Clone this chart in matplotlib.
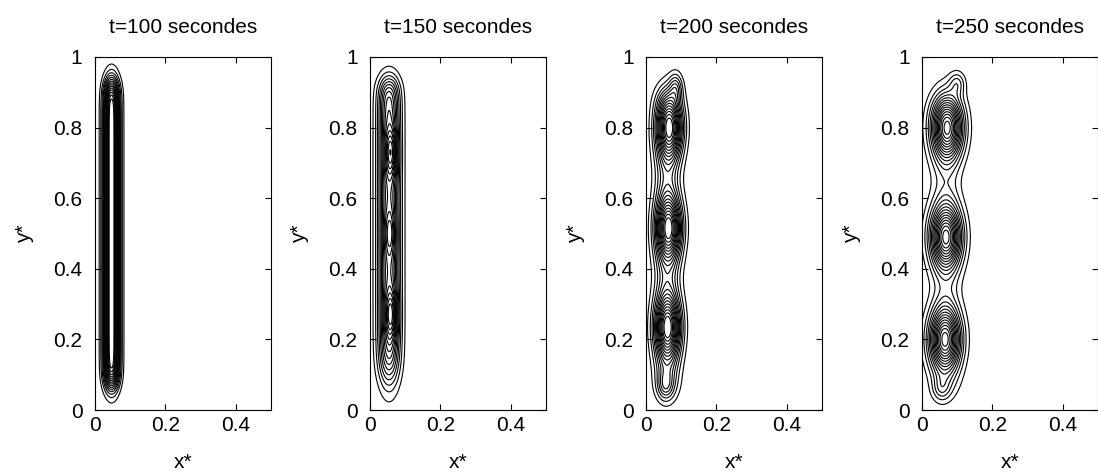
"""Contours of the streamfunction along the heated wall, four instants."""
import numpy as np
import matplotlib
matplotlib.use("Agg")
import matplotlib.pyplot as plt

plt.rcParams.update({
    "font.family": ["Liberation Sans", "DejaVu Sans"],
    "font.size": 15,
    "axes.titlesize": 15,
})

TITLES = ["t=100 secondes", "t=150 secondes", "t=200 secondes", "t=250 secondes"]
X_TICKS = [0, 0.2, 0.4]
X_TICK_LABELS = ["0", "0.2", "0.4"]
Y_TICKS = [0, 0.2, 0.4, 0.6, 0.8, 1]
Y_TICK_LABELS = ["0", "0.2", "0.4", "0.6", "0.8", "1"]

# base boundary-layer column, one entry per panel
COL_AMP = [1.0, 0.60, 0.30, 0.15]
COL_XC = [0.047, 0.054, 0.060, 0.068]
COL_SX = [0.021, 0.030, 0.034, 0.040]
COL_Y0 = [0.075, 0.100, 0.045, 0.045]
COL_Y1 = [0.925, 0.930, 0.900, 0.880]
COL_W0 = [0.020, 0.035, 0.020, 0.020]
COL_W1 = [0.020, 0.020, 0.020, 0.020]

# convection cells and end lobes (x centre, y centre, amplitude, x width, y width)
CELL_X = [[], [0.060, 0.057, 0.060],
          [0.062, 0.065, 0.068, 0.085, 0.055],
          [0.065, 0.068, 0.072, 0.100, 0.055]]
CELL_Y = [[], [0.27, 0.50, 0.73],
          [0.235, 0.515, 0.80, 0.915, 0.07],
          [0.20, 0.49, 0.80, 0.925, 0.06]]
CELL_AMP = [[], [0.32, 0.18, 0.32],
            [0.85, 0.85, 0.85, 0.24, 0.22],
            [0.95, 0.95, 0.95, 0.20, 0.18]]
CELL_SX = [[], [0.016, 0.015, 0.016],
           [0.034, 0.034, 0.034, 0.018, 0.022],
           [0.042, 0.042, 0.042, 0.022, 0.025]]
CELL_SY = [[], [0.065, 0.06, 0.065],
           [0.085, 0.085, 0.085, 0.038, 0.040],
           [0.084, 0.084, 0.084, 0.032, 0.035]]

# contour levels: first level, step, count
LEV_START = [0.06, 0.06, 0.07, 0.07]
LEV_STEP = [0.06, 0.06, 0.07, 0.07]
LEV_N = [15, 15, 15, 15]


def logistic(u):
    return 1.0 / (1.0 + np.exp(-u))


def field(i, X, Y):
    psi = (COL_AMP[i] * np.exp(-((X - COL_XC[i]) / COL_SX[i]) ** 2)
           * logistic((Y - COL_Y0[i]) / COL_W0[i])
           * logistic((COL_Y1[i] - Y) / COL_W1[i]))
    for xc, yc, a, sx, sy in zip(CELL_X[i], CELL_Y[i], CELL_AMP[i],
                                 CELL_SX[i], CELL_SY[i]):
        psi = psi + a * np.exp(-((X - xc) / sx) ** 2 - ((Y - yc) / sy) ** 2)
    return psi


fig = plt.figure(figsize=(10.98, 4.75), dpi=100)
lefts = [95, 370, 646, 922]
xs = np.linspace(0, 0.5, 500)
ys = np.linspace(0, 1, 800)
XX, YY = np.meshgrid(xs, ys)

for i, left in enumerate(lefts):
    ax = fig.add_axes([left / 1098, 65 / 475, 176 / 1098, 353 / 475])
    Z = field(i, XX, YY)
    levels = LEV_START[i] + LEV_STEP[i] * np.arange(LEV_N[i])
    ax.contour(XX, YY, Z, levels=levels, colors="k", linewidths=0.8)
    ax.set_xlim(0, 0.5)
    ax.set_ylim(0, 1)
    ax.set_xticks(X_TICKS)
    ax.set_xticklabels(X_TICK_LABELS)
    ax.set_yticks(Y_TICKS)
    ax.set_yticklabels(Y_TICK_LABELS)
    ax.tick_params(direction="in", top=True, right=True, length=4, width=0.8)
    ax.tick_params(axis="x", pad=4)
    ax.tick_params(axis="y", pad=9)
    ax.set_title(TITLES[i], pad=17)
    ax.set_xlabel("x*", labelpad=13)
    ax.set_ylabel("y*", labelpad=14)

fig.savefig("out.png", dpi=100)
